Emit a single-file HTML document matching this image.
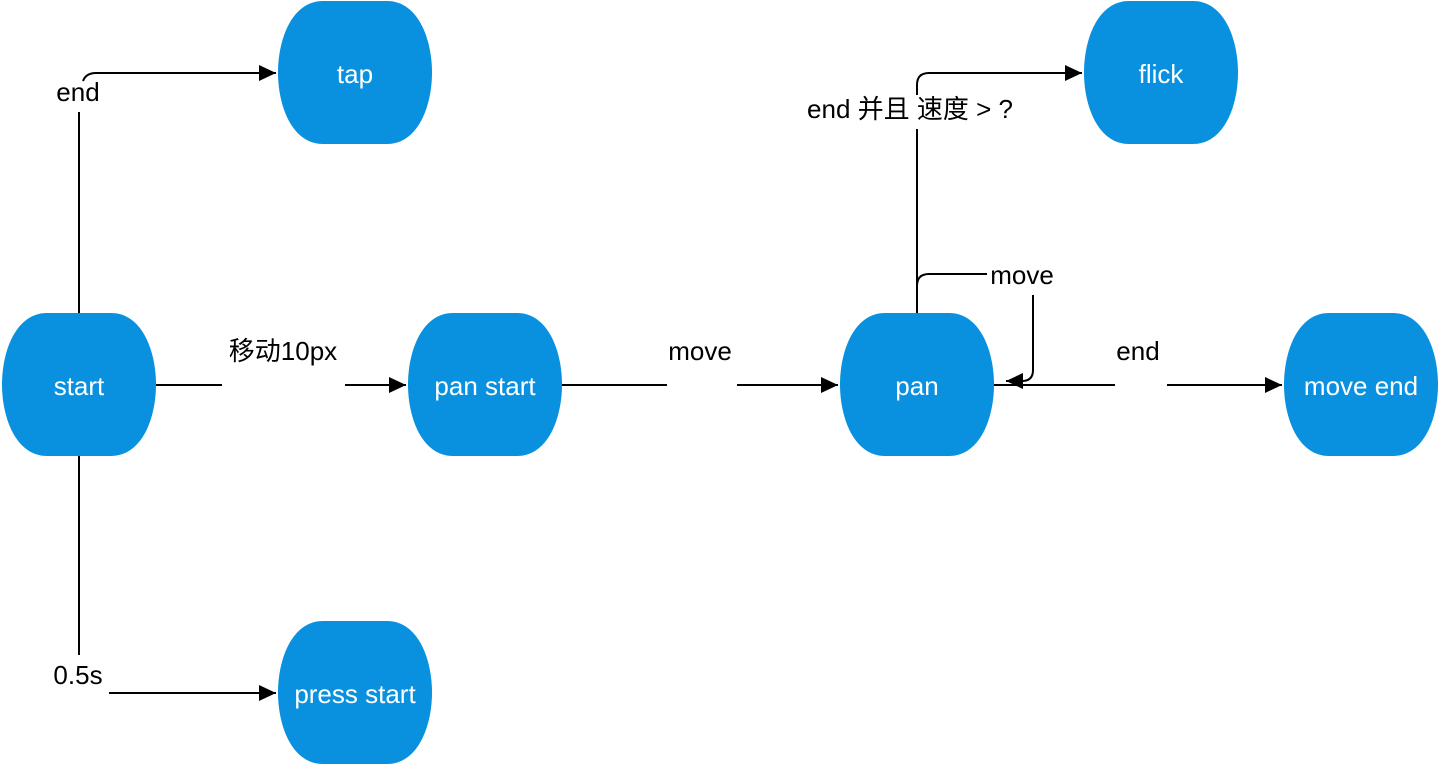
<!DOCTYPE html>
<html><head><meta charset="utf-8"><style>
html,body{margin:0;padding:0;background:#fff;}
svg{display:block;}
text{font-family:"Liberation Sans","Noto Sans CJK SC",sans-serif;}
</style></head><body>
<svg width="1438" height="764" viewBox="0 0 1438 764" xmlns="http://www.w3.org/2000/svg">
<defs>
<marker id="b" markerWidth="18" markerHeight="16" refX="17" refY="8" orient="auto" markerUnits="userSpaceOnUse">
<path d="M0,0 L17,8 L0,16 Z" fill="#000"/>
</marker>
<path id="n" d="M45,0 L109,0 C140,0 154,38 154,71.5 C154,105 140,143 109,143 L45,143 C14,143 0,105 0,71.5 C0,38 14,0 45,0 Z" fill="#0991E0"/>
</defs>
<g stroke="#000" stroke-width="2" fill="none">
<path d="M79,313 L79,112"/>
<path d="M83,81 Q86,73 96,73 L276,73" marker-end="url(#b)"/>
<path d="M156,385 L222,385"/>
<path d="M345,385 L406,385" marker-end="url(#b)"/>
<path d="M562,385 L667,385"/>
<path d="M737,385 L838,385" marker-end="url(#b)"/>
<path d="M79,456 L79,655"/>
<path d="M109,693 L276,693" marker-end="url(#b)"/>
<path d="M917,313 L917,129"/>
<path d="M917,95 L917,85 Q917,73 929,73 L1082,73" marker-end="url(#b)"/>
<path d="M917,300 L917,286 Q917,274 929,274 L987,274"/>
<path d="M1033,295 L1033,370 Q1033,381 1022,381 L1006,381" marker-end="url(#b)"/>
<path d="M994,385 L1115,385"/>
<path d="M1167,385 L1282,385" marker-end="url(#b)"/>
</g>
<g font-size="26" fill="#fff" text-anchor="middle">
<use href="#n" x="2" y="313"/><text x="79" y="395">start</text>
<use href="#n" x="278" y="1"/><text x="355" y="83">tap</text>
<use href="#n" x="278" y="621"/><text x="355" y="703">press start</text>
<use href="#n" x="408" y="313"/><text x="485" y="395">pan start</text>
<use href="#n" x="840" y="313"/><text x="917" y="395">pan</text>
<use href="#n" x="1084" y="1"/><text x="1161" y="83">flick</text>
<use href="#n" x="1284" y="313"/><text x="1361" y="395">move end</text>
</g>
<g font-size="26" fill="#000" text-anchor="middle">
<text x="78" y="101">end</text>
<text x="283" y="360">移动10px</text>
<text x="700" y="360">move</text>
<text x="78" y="684">0.5s</text>
<text x="910" y="118">end 并且 速度 &gt; ?</text>
<text x="1022" y="284">move</text>
<text x="1138" y="360">end</text>
</g>
</svg>
</body></html>
